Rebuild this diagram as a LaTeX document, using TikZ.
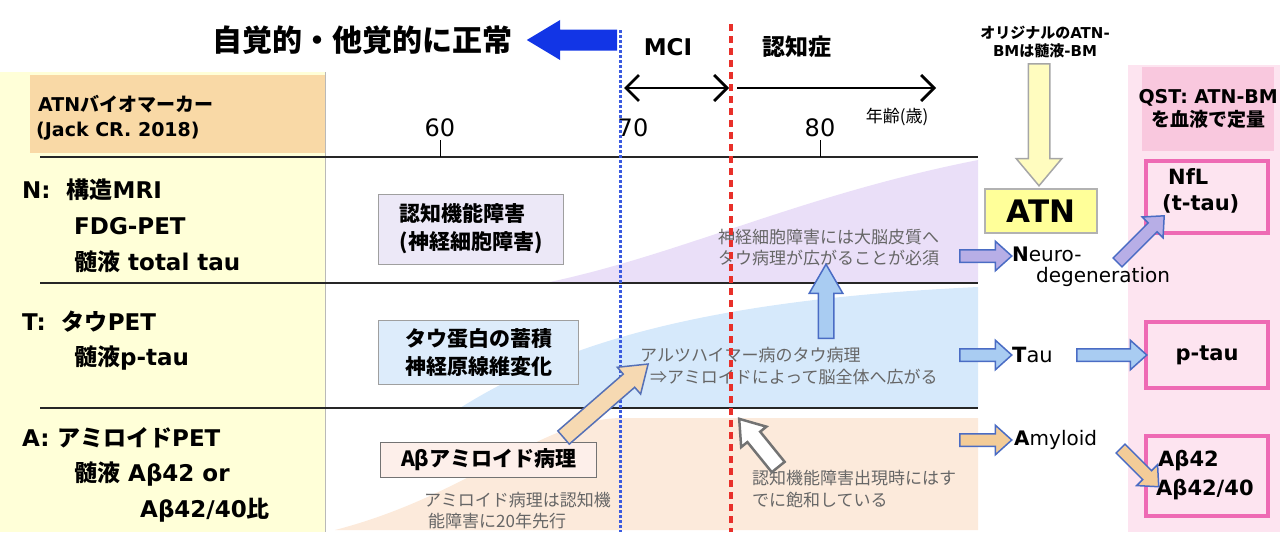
\documentclass[tikz,border=0pt]{standalone}
\usepackage{fontspec}
\setmainfont{DejaVu Sans}
\newfontfamily\jp{Noto Sans CJK JP}
\usetikzlibrary{shapes.arrows,arrows.meta}
\definecolor{lyellow}{HTML}{FFFFD8}
\definecolor{orangehdr}{HTML}{F9D9A6}
\definecolor{purplefill}{HTML}{EADFF8}
\definecolor{bluefill}{HTML}{D6E9FB}
\definecolor{peachfill}{HTML}{FCEADB}
\definecolor{pinkpanel}{HTML}{FDE4F0}
\definecolor{pinkhdr}{HTML}{F9C8DE}
\definecolor{magentab}{HTML}{EE6AB4}
\definecolor{atnyellow}{HTML}{FFFF99}
\definecolor{bigblue}{HTML}{1235E6}
\definecolor{annot}{HTML}{666666}
\definecolor{boxlav}{HTML}{ECE8F7}
\definecolor{boxblue}{HTML}{DDECFB}
\definecolor{boxpink}{HTML}{FDEFEA}
\definecolor{lavarrow}{HTML}{B7AEE6}
\definecolor{tauarrow}{HTML}{A9CCF2}
\definecolor{amyarrow}{HTML}{F3CC98}
\definecolor{arrowedge}{HTML}{4A6CC4}
\definecolor{redline}{HTML}{E8302A}
\definecolor{blueline}{HTML}{3A5AE0}
\tikzset{barbtip/.tip={Straight Barb[length=13pt,width=26pt,line width=2.8pt]}}
\begin{document}
\begin{tikzpicture}[x=1pt,y=-1pt,
  every node/.style={inner sep=0pt},
  lbl/.style={anchor=west,font=\bfseries\fontsize{23}{28}\selectfont},
  hdr/.style={anchor=west,font=\bfseries\fontsize{19}{24}\selectfont},
  ann/.style={anchor=west,text=annot,font=\jp\fontsize{17}{21}\selectfont},
  gbox/.style={draw=gray!75,line width=1pt,align=left,inner xsep=5pt,font=\jp\bfseries\fontsize{21}{28}\selectfont},
  mbox/.style={draw=magentab,line width=4.5pt,fill=pinkpanel},
  bmtext/.style={font=\bfseries\fontsize{21}{24}\selectfont},
  axlbl/.style={font=\fontsize{24}{28}\selectfont},
  gridline/.style={line width=2.5pt,black!85},
  barr/.style={single arrow,anchor=tail,inner xsep=0pt,line width=1.5pt,minimum width=0pt},
  smallarr/.style={barr,minimum height=#1,inner ysep=5.5pt,single arrow head extend=8.5pt,single arrow tip angle=84,draw=arrowedge},
  timearrow/.style={line width=2.5pt,-barbtip},
]
\useasboundingbox (0,0) rectangle (1280,542);
% backgrounds
\fill[lyellow] (0,72) rectangle (325,532);
\draw[gray!55,line width=1pt] (325,72) -- (325,532);
\node[fill=orangehdr,minimum width=295pt,minimum height=78pt,anchor=north west] (hdrbox) at (30,75) {};
\fill[pinkpanel] (1128,65) rectangle (1280,532);
\node[fill=pinkhdr,minimum width=132pt,minimum height=84pt,anchor=north west] (qst) at (1142,67) {};
% stage fills
\fill[purplefill] (545,283) .. controls (680,255) and (800,195) .. (978,160) -- (978,283) -- cycle;
\fill[bluefill] (460,408) .. controls (560,345) and (700,300) .. (978,287) -- (978,408) -- cycle;
\fill[peachfill] (335,530) .. controls (470,495) and (540,420) .. (620,418) -- (978,418) -- (978,530) -- cycle;
% grid lines
\coordinate (l1a) at (40,157); \coordinate (l1b) at (978,157);
\coordinate (l2a) at (40,283); \coordinate (l2b) at (978,283);
\coordinate (l3a) at (40,408); \coordinate (l3b) at (978,408);
\draw[gridline] (l1a) -- (l1b);
\draw[gridline] (l2a) -- (l2b);
\draw[gridline] (l3a) -- (l3b);
\coordinate (t60a) at (440,140); \coordinate (t60b) at (440,157);
\coordinate (t80a) at (820,140); \coordinate (t80b) at (820,157);
\draw[line width=1pt] (t60a) -- (t60b);
\draw[line width=1pt] (t80a) -- (t80b);
% header texts
\node[font=\jp\bfseries\fontsize{30}{32}\selectfont] (title) at (362,40) {自覚的・他覚的に正常};
\node[barr,fill=bigblue,draw=bigblue,minimum height=88pt,inner ysep=9pt,single arrow head extend=9pt,single arrow tip angle=62,rotate=180] (normarr) at (617,40) {};
\node[font=\bfseries\fontsize{23}{28}\selectfont] (mci) at (668,47) {MCI};
\node[font=\jp\bfseries\fontsize{23}{28}\selectfont] (dem) at (797,47) {認知症};
\coordinate (m1) at (624,88); \coordinate (m2) at (729,88);
\coordinate (d1) at (737,88); \coordinate (d2) at (936,88);
\draw[line width=2.5pt,barbtip-barbtip] (m1) -- (m2);
\draw[timearrow] (d1) -- (d2);
\node[font=\jp\fontsize{17}{20}\selectfont] (age) at (897,117) {年齢(歳)};
\node[axlbl] (a60) at (440,128) {60};
\node[axlbl] (a70) at (633,128) {70};
\node[axlbl] (a80) at (820,128) {80};
% left panel
\node[hdr] (h1) at (38,104) {ATN{\jp バイオマーカー}};
\node[hdr] (h2) at (36,131) {(Jack CR. 2018)};
\node[lbl] (n1) at (22,190) {N:\ \ {\jp 構造}MRI};
\node[lbl] (n2) at (74,226) {FDG-PET};
\node[lbl] (n3) at (74,262) {{\jp 髄液} total tau};
\node[lbl] (t1) at (22,322) {T:\ \ {\jp タウ}PET};
\node[lbl] (t2) at (74,358) {{\jp 髄液}p-tau};
\node[lbl] (a1) at (22,438) {A: {\jp アミロイド}PET};
\node[lbl] (a2) at (74,474) {{\jp 髄液} Aβ42 or};
\node[lbl] (a3) at (140,510) {Aβ42/40{\jp 比}};
% stage boxes
\node[gbox,fill=boxlav,minimum width=185pt,minimum height=70pt,anchor=west] (bN) at (378,229) {認知機能障害\\(神経細胞障害)};
\node[gbox,fill=boxblue,minimum width=200pt,minimum height=64pt,anchor=west] (bT) at (378,352) {タウ蛋白の蓄積\\神経原線維変化};
\node[gbox,fill=boxpink,draw=gray!90!black,minimum width=216pt,minimum height=35pt,anchor=west,inner xsep=2pt] (bA) at (380,460) {Aβ{\jp アミロイド病理}};
% annotations
\node[ann] (annN1) at (718,237) {神経細胞障害には大脳皮質へ};
\node[ann] (annN2) at (718,258) {タウ病理が広がることが必須};
\node[ann] (annT1) at (640,355) {アルツハイマー病のタウ病理};
\node[ann] (annT2) at (650,377) {⇒アミロイドによって脳全体へ広がる};
\node[ann] (annA1) at (424,500) {アミロイド病理は認知機};
\node[ann] (annA2) at (428,521) {能障害に20年先行};
\node[ann] (annS1) at (752,478) {認知機能障害出現時にはす};
\node[ann] (annS2) at (752,500) {でに飽和している};
% vertical stage lines
\coordinate (bl1) at (620,30); \coordinate (bl2) at (620,532);
\coordinate (rl1) at (731,24); \coordinate (rl2) at (731,532);
\draw[blueline,line width=3pt,dash pattern=on 2.5pt off 2.5pt] (bl1) -- (bl2);
\draw[redline,line width=3.5pt,dash pattern=on 7pt off 5pt] (rl1) -- (rl2);
% big arrows in plot
\node[barr,fill=amyarrow!75!white,draw=arrowedge!80!gray,minimum height=112pt,inner ysep=8pt,single arrow head extend=9pt,single arrow tip angle=70,rotate=41] (abarr) at (563,438) {};
\node[barr,fill=tauarrow,draw=arrowedge,minimum height=74pt,inner ysep=7pt,single arrow head extend=9pt,single arrow tip angle=60,rotate=90] (uparr) at (826,339) {};
\node[barr,fill=white,draw=gray!90!black,line width=2.5pt,minimum height=62pt,inner ysep=7pt,single arrow head extend=8pt,single arrow tip angle=70,rotate=129] (satarr) at (779,468) {};
% right side
\node[font=\bfseries\fontsize{15}{18}\selectfont,align=center] (orig) at (1045,42) {{\jp オリジナルの}ATN-\\BM{\jp は髄液}-BM};
\node[barr,fill=yellow!25,draw=gray!70,minimum height=122pt,inner ysep=10pt,single arrow head extend=12pt,single arrow tip angle=80,rotate=-90] (ydown) at (1039,63) {};
\node[fill=atnyellow,draw=gray!60,line width=1.5pt,minimum width=112pt,minimum height=44pt,font=\bfseries\fontsize{31}{34}\selectfont] (atn) at (1041,211) {ATN};
\node[smallarr=52pt,fill=lavarrow] (arrN) at (959,256) {};
\node[smallarr=52pt,fill=tauarrow] (arrT) at (959,355) {};
\node[smallarr=52pt,fill=amyarrow] (arrA) at (959,440) {};
\node[anchor=west,font=\fontsize{20}{24}\selectfont] (neuro) at (1012,254) {{\bfseries N}euro-};
\node[anchor=west,font=\fontsize{20}{24}\selectfont] (degen) at (1036,277) {degeneration};
\node[anchor=west,font=\fontsize{21}{24}\selectfont] (tau) at (1012,355) {{\bfseries T}au};
\node[anchor=west,font=\fontsize{20}{24}\selectfont] (amy) at (1014,440) {{\bfseries A}myloid};
\node[font=\bfseries\fontsize{19}{23}\selectfont,align=center] (qsttext) at (qst) {QST: ATN-BM\\{\jp を血液で定量}};
\node[mbox,minimum width=122pt,minimum height=72pt] (nfl) at (1207,197) {};
\node[mbox,minimum width=122pt,minimum height=66pt] (ptau) at (1207,355) {};
\node[mbox,minimum width=122pt,minimum height=80pt] (ab) at (1207,476) {};
\node[bmtext,anchor=west] (nflt1) at (1168,177) {NfL};
\node[bmtext,anchor=west] (nflt2) at (1162,204) {(t-tau)};
\node[bmtext,font=\bfseries\fontsize{21}{24}\selectfont] (ptaut) at (ptau) {p-tau};
\node[bmtext,anchor=west] (abt1) at (1158,461) {Aβ42};
\node[bmtext,anchor=west] (abt2) at (1156,490) {Aβ42/40};
\node[smallarr=70pt,fill=tauarrow] (arrTP) at (1076,355) {};
\node[smallarr=66pt,fill=lavarrow,rotate=45] (arrNN) at (1117,263) {};
\node[smallarr=54pt,fill=amyarrow,rotate=-45] (arrAA) at (1120,448) {};
\end{tikzpicture}
\end{document}
